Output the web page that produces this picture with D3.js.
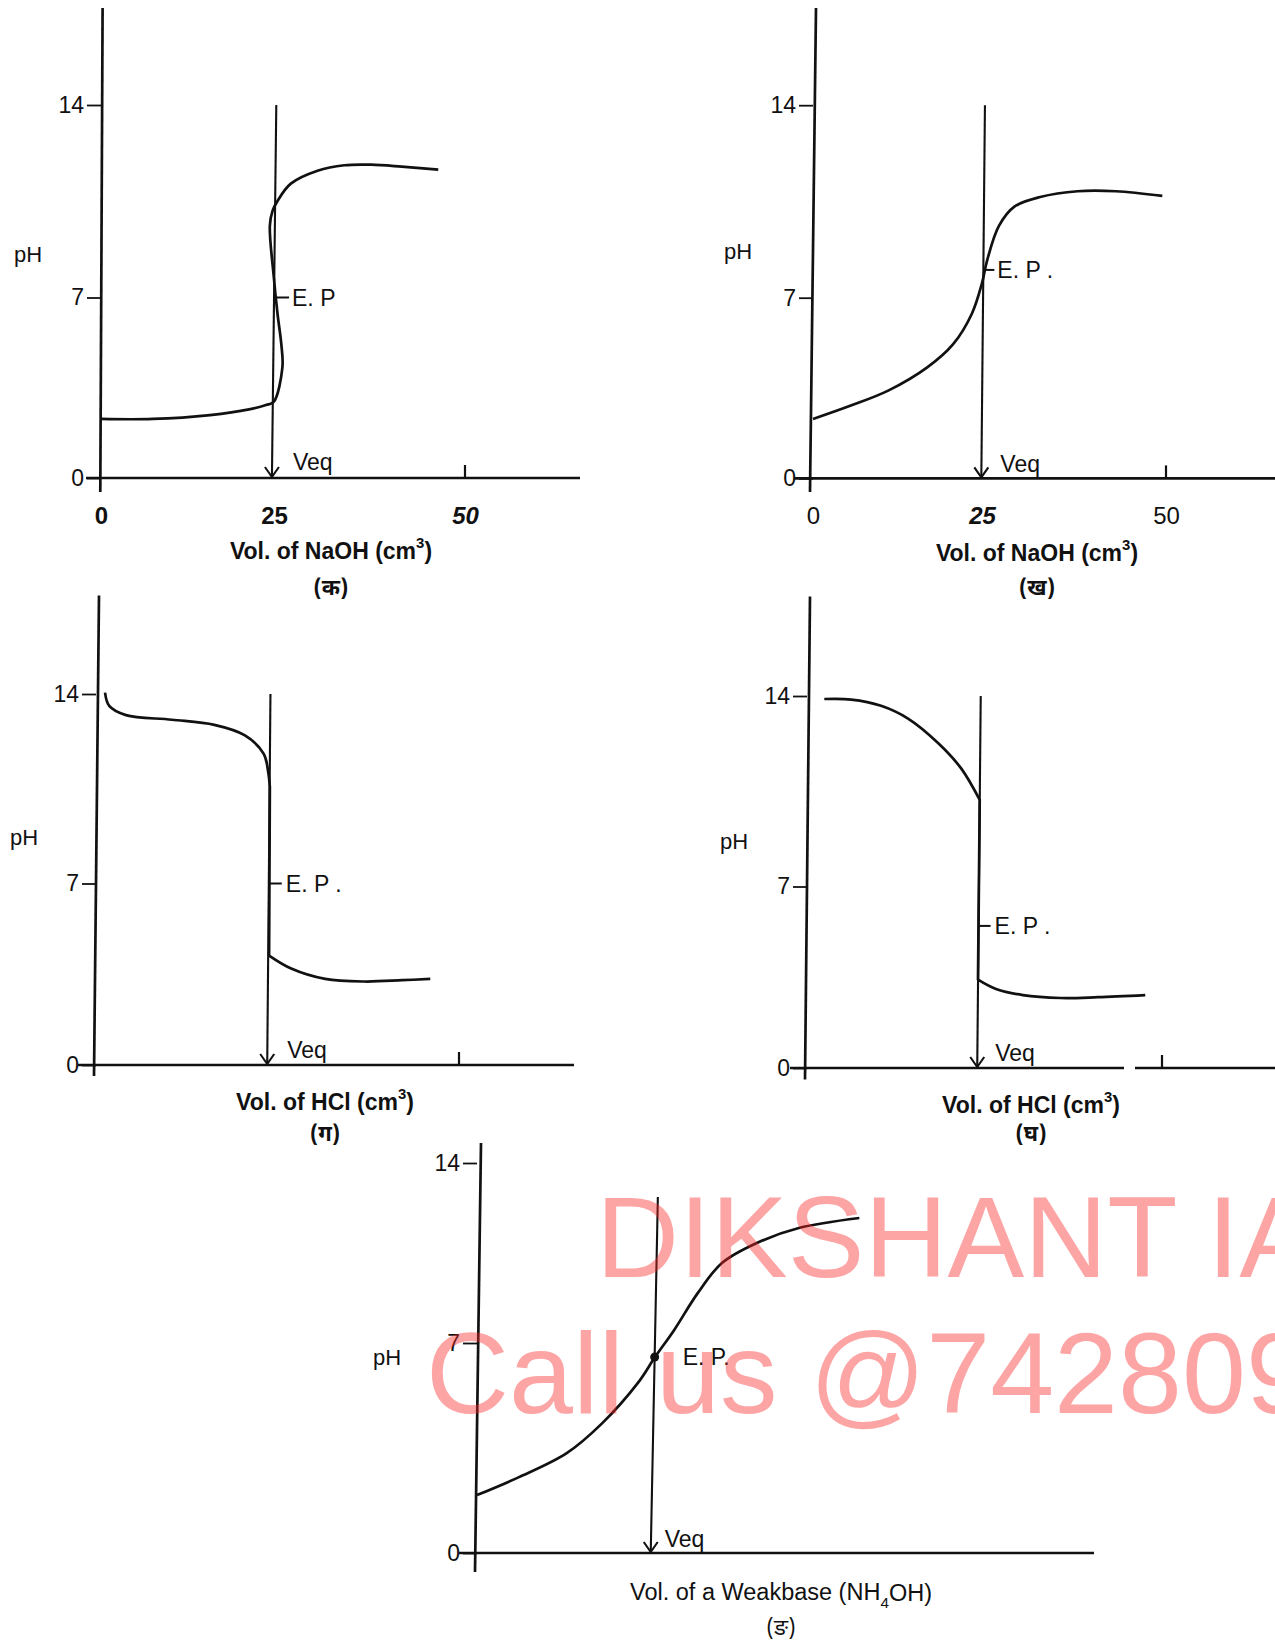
<!DOCTYPE html>
<html><head><meta charset="utf-8">
<script src="https://cdn.jsdelivr.net/npm/d3@7"></script>
<style>
body{margin:0;background:#fff}
svg{display:block}
text{font-family:"Liberation Sans",Arial,Helvetica,sans-serif;fill:#111}
</style>
</head><body>
<svg id="c" width="1275" height="1645"></svg>
<script>
// ---------- data ----------
const phTicks = [0, 7, 14];
const volTicks = [0, 25, 50];
const xTickLabelsA = ["0", "25", "50"];
const xTickLabelsB = ["0", "25", "50"];

// (क) strong acid vs strong base
const aVol = [0, 7.5, 15.75, 21.4, 23.85, 24.95, 26.1, 25.96, 25.46, 24.95, 24.4, 24.8, 25.46, 27.2, 30.7, 34.2, 37.7, 41.7, 46.5];
const aPH  = [2.29, 2.29, 2.44, 2.66, 2.83, 2.95, 4.29, 5.18, 6.37, 7.8, 9.61, 10.16, 10.51, 11.14, 11.61, 11.81, 11.83, 11.76, 11.65];
// (ख) weak acid vs strong base
const bVol = [0, 5.6, 11.2, 16.9, 20.7, 23.5, 25, 25.7, 27.3, 29.4, 32.9, 38.0, 43.2, 49.5];
const bPH  = [2.30, 2.82, 3.41, 4.30, 5.19, 6.38, 7.53, 8.36, 9.61, 10.31, 10.66, 10.87, 10.87, 10.70];
// (ग) strong base vs strong acid
const cVol = [1.3, 1.9, 4.3, 10.9, 17.0, 21.4, 24.1, 24.75, 24.98, 24.87, 27.8, 32.3, 37.5, 42.5, 46.2];
const cPH  = [14.05, 13.56, 13.22, 13.05, 12.86, 12.47, 11.79, 11.10, 10.56, 4.22, 3.72, 3.32, 3.22, 3.27, 3.32];
// (घ) weak base vs strong acid
const dVol = [2.5, 6.4, 10.7, 14.6, 18.9, 22.3, 24.96, 24.71, 27.2, 30.9, 36.1, 41.2, 47.7];
const dPH  = [13.89, 13.87, 13.64, 13.17, 12.28, 11.33, 10.18, 3.41, 3.05, 2.81, 2.70, 2.73, 2.81];
// (ङ) weak acid vs weak base
const eVol = [0, 5.9, 12.6, 17.6, 22.6, 25, 27.7, 31.0, 34.4, 39.3, 45.2, 53.7];
const ePH  = [1.93, 2.53, 3.33, 4.33, 5.67, 6.53, 7.51, 8.94, 10.11, 10.89, 11.47, 11.86];
// indices where the curve runs straight down the equivalence line (start, end)
const curveBreaks = [[], [], [8, 9], [6, 7], []];

const epPH = [7, 8.01, 7, 5.48, 6.53];
const veqTopVol = [25.3, 25.4, 25.06, 25.1, 25.4];
const veqTopPH = [14, 14, 14, 14, 12.68];
const veqBottomVol = [24.7, 24.9, 24.6, 24.6, 24.4];

const titleMain = ["Vol. of NaOH (cm", "Vol. of NaOH (cm", "Vol. of HCl (cm", "Vol. of HCl (cm", "Vol. of a Weakbase (NH"];
const titleScript = ["3", "3", "3", "3", "4"];
const titleEnd = [")", ")", ")", ")", "OH)"];
const subLabels = ["(क)", "(ख)", "(ग)", "(घ)", "(ङ)"];
const epText = ["E. P", "E. P .", "E. P .", "E. P .", "E. P."];
const watermark = ["DIKSHANT IAS", "Call us @7428092240"];

// ---------- layout ----------
const series = [[aVol, aPH], [bVol, bPH], [cVol, cPH], [dVol, dPH], [eVol, ePH]];
const L = [
  {xr:[101,274,465], yr:[478,297.5,105], yAx:[[102.6,8],[100.3,492]], tickX:101, xAx:[[86,580]], t50:true, labels:xTickLabelsA,
   lw:["bold","bold","bold"], ls:["normal","normal","italic"], pH:[14,254], title:[331,551], sub:[331,587], tb:"bold", ts:23,
   epTick:15, epDx:18, veq:[21,-8]},
  {xr:[813,982,1166], yr:[478.4,297.7,105.2], yAx:[[816,8],[810,492]], tickX:813, xAx:[[794,1275]], t50:true, labels:xTickLabelsB,
   lw:["normal","bold","normal"], ls:["normal","italic","normal"], pH:[724,251], title:[1037,553], sub:[1037,587], tb:"bold", ts:23,
   epTick:11, epDx:14, veq:[19,-6]},
  {xr:[96,270,459], yr:[1065,883.5,694], yAx:[[99,595.5],[94,1076]], tickX:96, xAx:[[78,574]], t50:true, labels:null,
   pH:[10,837], title:[325,1102], sub:[325,1133], tb:"bold", ts:23, epTick:13, epDx:17, veq:[20,-7]},
  {xr:[807,980,1162], yr:[1068,886.5,696], yAx:[[810,596.6],[805,1079.4]], tickX:807, xAx:[[790,1124],[1135,1275]], t50:true, labels:null,
   pH:[720,841], title:[1031,1105], sub:[1031,1133], tb:"bold", ts:23, epTick:12, epDx:16, veq:[18,-7]},
  {xr:[477,655,833], yr:[1553,1343,1163], yAx:[[481,1143],[475,1572]], tickX:477, xAx:[[459,1094]], t50:false, labels:null,
   pH:[373,1357], title:[781,1592], sub:[781,1627], tb:"normal", ts:23.5, epTick:0, epDx:28, veq:[14,-6], dot:true}
];

const svg = d3.select("#c");
const FS = 23;

L.forEach((p, i) => {
  const x = d3.scaleLinear().domain(volTicks).range(p.xr);
  const y = d3.scaleLinear().domain(phTicks).range(p.yr);
  const g = svg.append("g");

  // y axis line
  g.append("line").attr("x1", p.yAx[0][0]).attr("y1", p.yAx[0][1]).attr("x2", p.yAx[1][0]).attr("y2", p.yAx[1][1])
    .attr("stroke", "#111").attr("stroke-width", 2.7);
  // x axis line(s)
  p.xAx.forEach(s => g.append("line").attr("x1", s[0]).attr("x2", s[1]).attr("y1", y(0)).attr("y2", y(0))
    .attr("stroke", "#111").attr("stroke-width", 2.7));

  // y ticks
  const ya = g.append("g").attr("transform", `translate(${p.tickX},0)`)
    .call(d3.axisLeft(y).tickValues(phTicks).tickSize(14).tickPadding(3).tickFormat(d3.format("d")));
  ya.select(".domain").remove();
  ya.selectAll(".tick line").attr("stroke", "#111").attr("stroke-width", 1.8);
  ya.selectAll(".tick text").attr("font-size", FS).attr("font-family", "Liberation Sans, Arial, sans-serif").attr("fill", "#111");

  // x tick labels
  if (p.labels) {
    const xa = g.append("g").attr("transform", `translate(0,${y(0)})`)
      .call(d3.axisBottom(x).tickValues(volTicks).tickSize(0).tickPadding(29).tickFormat((d, k) => p.labels[k]));
    xa.select(".domain").remove();
    xa.selectAll(".tick text").attr("font-size", 24).attr("font-family", "Liberation Sans, Arial, sans-serif").attr("fill", "#111")
      .attr("font-weight", (d, k) => p.lw[k]).attr("font-style", (d, k) => p.ls[k]);
  }
  if (p.t50) {
    g.append("line").attr("x1", x(50)).attr("x2", x(50)).attr("y1", y(0)).attr("y2", y(0) - 13)
      .attr("stroke", "#111").attr("stroke-width", 2.2);
  }

  // curve (smooth pieces, straight drop along the equivalence line)
  const [vs, ps] = series[i];
  const pts = vs.map((v, k) => [v, ps[k]]);
  const smooth = d3.line().x(d => x(d[0])).y(d => y(d[1])).curve(d3.curveCatmullRom.alpha(0.5));
  const straight = d3.line().x(d => x(d[0])).y(d => y(d[1]));
  const br = curveBreaks[i];
  let d;
  if (br.length) {
    d = smooth(pts.slice(0, br[0] + 1)) + straight(pts.slice(br[0], br[1] + 1)).replace(/^M/, "L") +
        smooth(pts.slice(br[1])).replace(/^M[^LC]*/, "");
  } else d = smooth(pts);
  g.append("path").attr("d", d)
    .attr("fill", "none").attr("stroke", "#111").attr("stroke-width", 2.7).attr("stroke-linejoin", "round");

  // equivalence line with arrow
  const xt = x(veqTopVol[i]), yt = y(veqTopPH[i]), xb = x(veqBottomVol[i]), yb = y(0);
  g.append("line").attr("x1", xt).attr("y1", yt).attr("x2", xb).attr("y2", yb).attr("stroke", "#111").attr("stroke-width", 2.1);
  g.append("path").attr("d", `M${xb-7},${yb-11} L${xb},${yb-1} L${xb+7},${yb-11}`)
    .attr("fill", "none").attr("stroke", "#111").attr("stroke-width", 2.1);

  // E.P.
  const ye = y(epPH[i]);
  const xe = xb + (xt - xb) * ((yb - ye) / (yb - yt));
  if (p.epTick > 0) {
    g.append("line").attr("x1", xe).attr("x2", xe + p.epTick).attr("y1", ye).attr("y2", ye).attr("stroke", "#111").attr("stroke-width", 2);
  }
  if (p.dot) g.append("circle").attr("cx", xe).attr("cy", ye).attr("r", 4.5).attr("fill", "#111");
  g.append("text").attr("x", xe + p.epDx).attr("y", ye).attr("dy", "0.36em").attr("font-size", FS).text(epText[i]);

  // Veq
  g.append("text").attr("x", xb + p.veq[0]).attr("y", yb + p.veq[1]).attr("font-size", FS).text("Veq");

  // pH label
  g.append("text").attr("x", p.pH[0]).attr("y", p.pH[1]).attr("dy", "0.36em").attr("font-size", 22).text("pH");

  // x title
  const t = g.append("text").attr("x", p.title[0]).attr("y", p.title[1]).attr("dy", "0.36em")
    .attr("text-anchor", "middle").attr("font-size", p.ts).attr("font-weight", p.tb);
  t.append("tspan").text(titleMain[i]);
  t.append("tspan").attr("font-size", p.ts * 0.65).attr("dy", i === 4 ? "0.5em" : "-0.75em").text(titleScript[i]);
  t.append("tspan").attr("dy", i === 4 ? "-0.32em" : "0.48em").text(titleEnd[i]);

  // sub label
  g.append("text").attr("x", p.sub[0]).attr("y", p.sub[1]).attr("dy", "0.36em").attr("text-anchor", "middle")
    .attr("font-size", 22).attr("font-weight", i === 4 ? "normal" : "bold")
    .style("font-family", "'Noto Sans Devanagari','Lohit Devanagari','Mukta','FreeSans','Noto Sans',sans-serif")
    .text(subLabels[i]);
});

// watermark
const wm = svg.append("g").attr("fill-opacity", 0.42);
wm.append("text").attr("x", 596).attr("y", 1277).attr("font-size", 115)
  .style("fill", "rgb(250,40,40)").text(watermark[0]);
wm.append("text").attr("x", 426).attr("y", 1413).attr("font-size", 115)
  .style("fill", "rgb(250,40,40)").text(watermark[1]);
</script>
</body></html>
